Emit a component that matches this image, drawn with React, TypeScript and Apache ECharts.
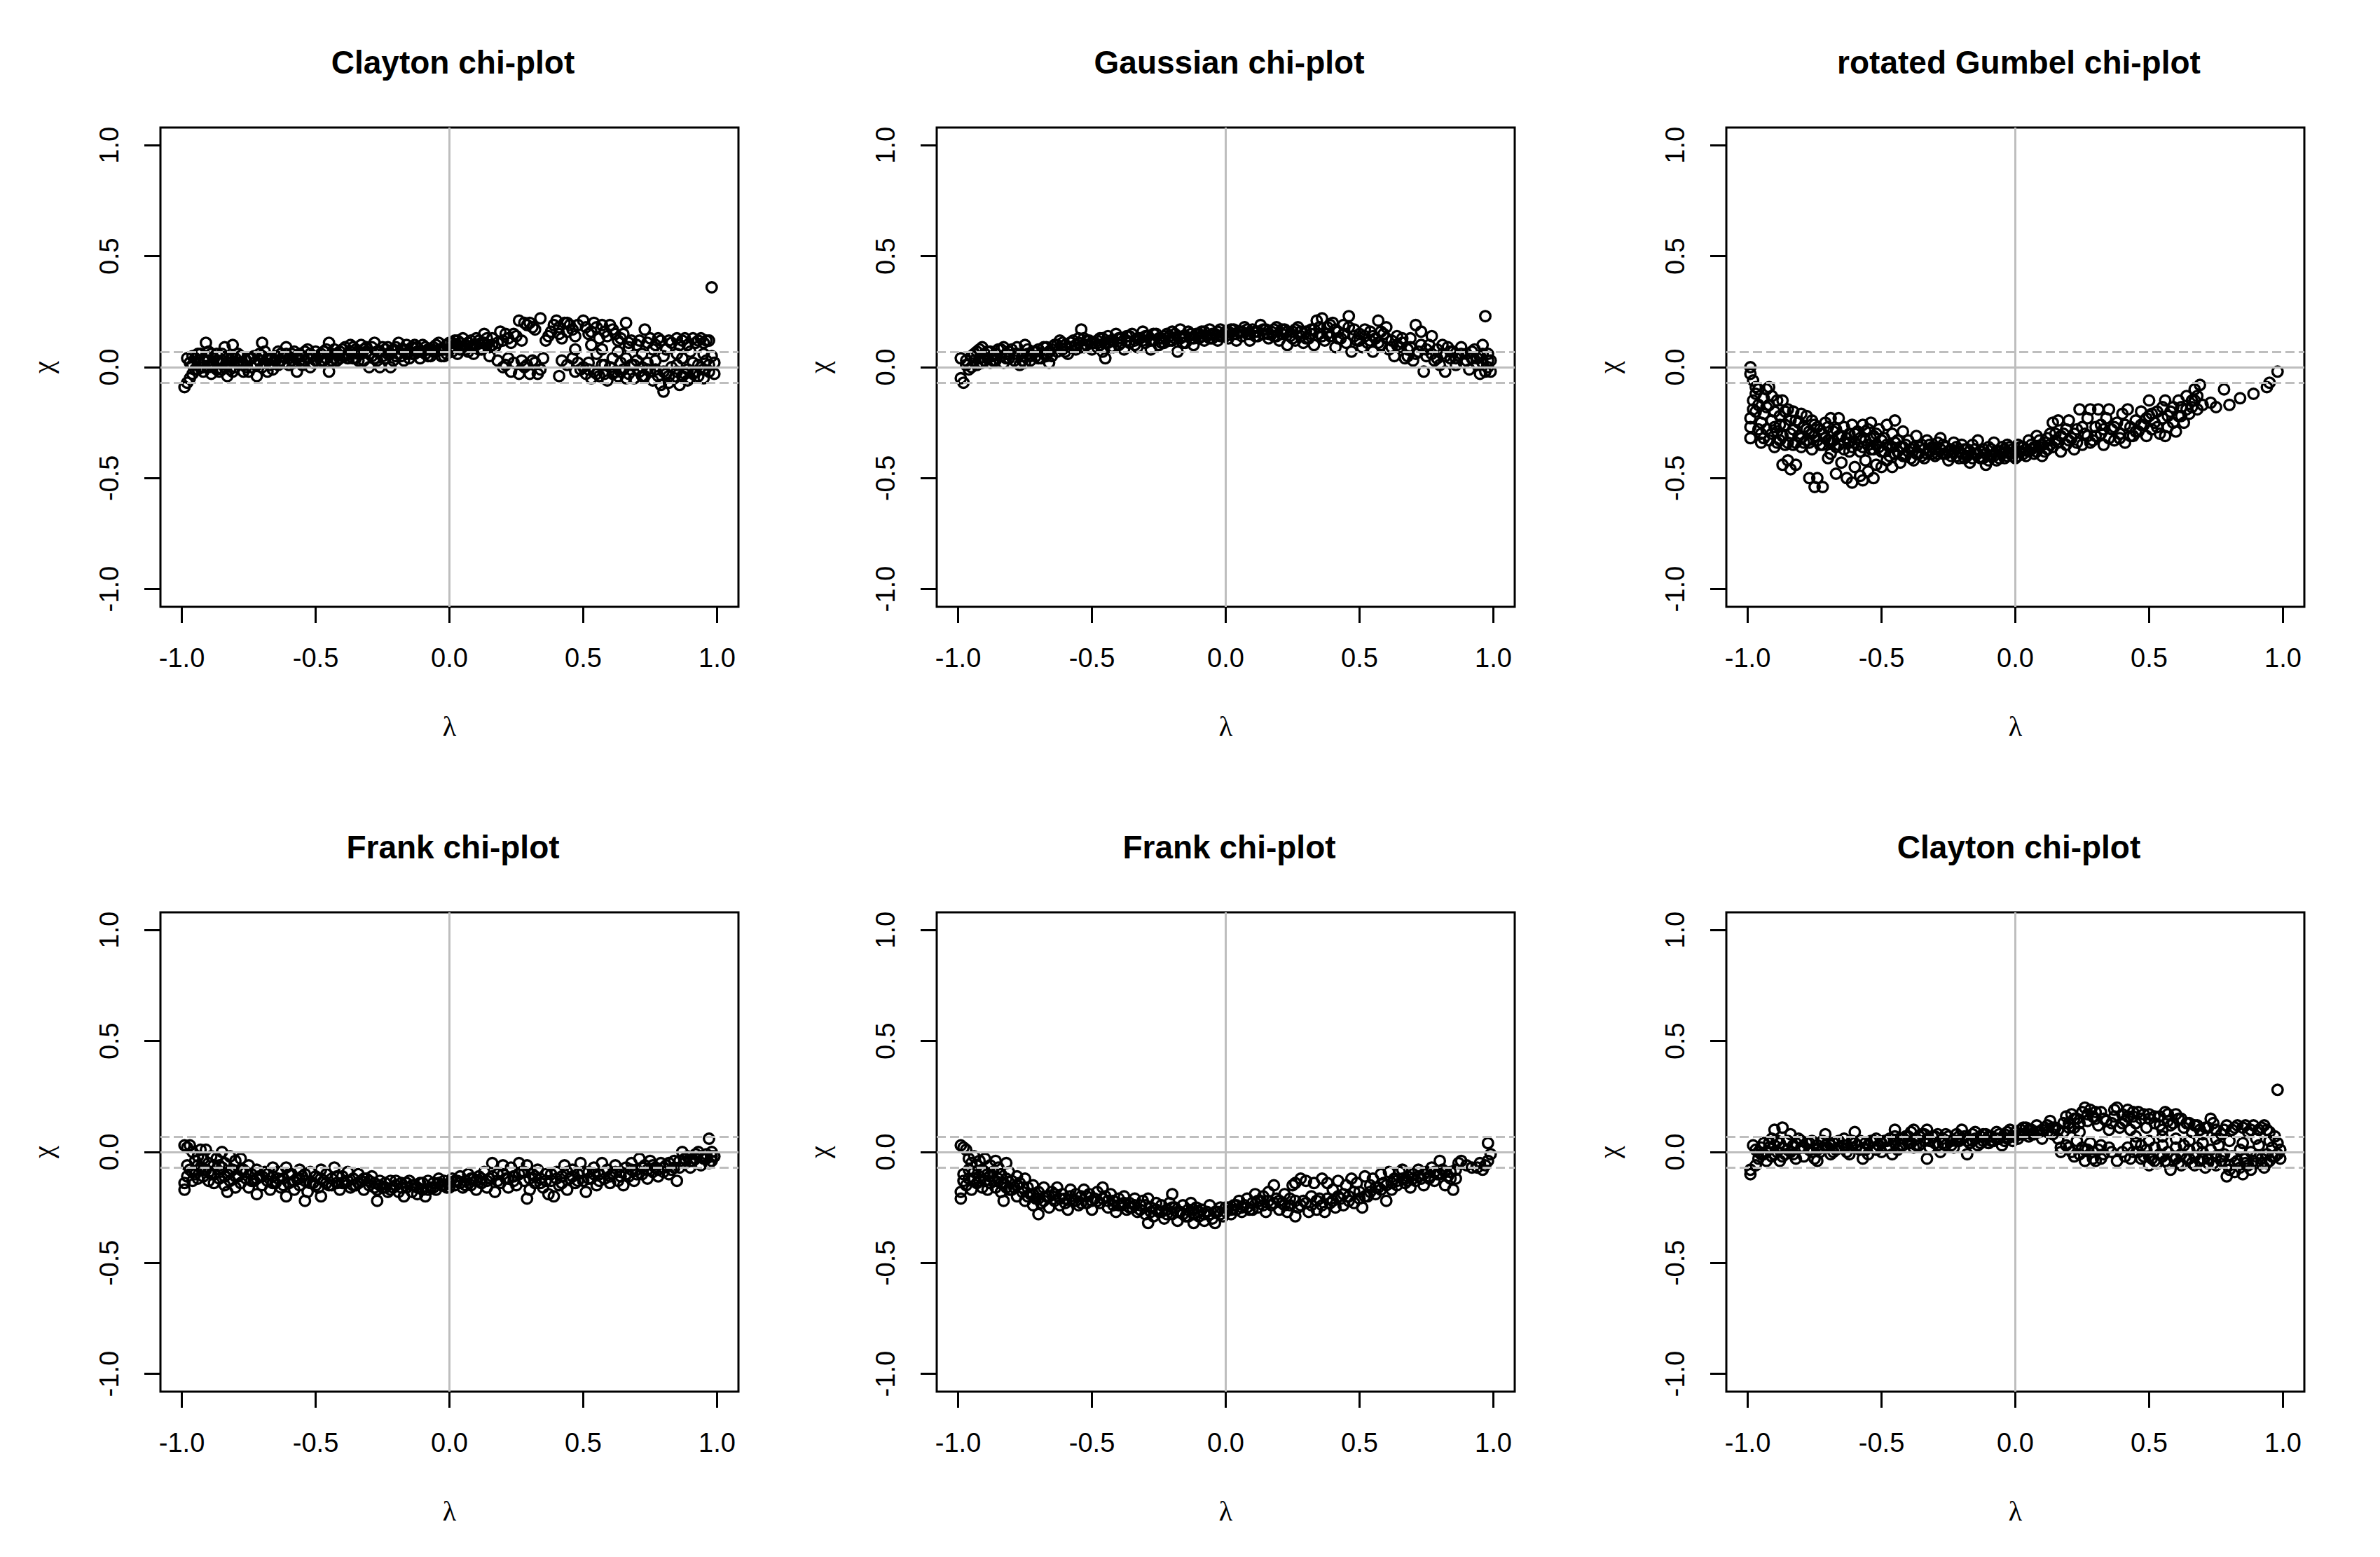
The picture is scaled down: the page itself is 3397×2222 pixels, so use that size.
import React, { useEffect, useRef } from "react";
import * as echarts from "echarts";

// ---- axis / reference values ----
const tickValues = [-1, -0.5, 0, 0.5, 1];
const axisMin = -1.08;
const axisMax = 1.08;
const bandHalfWidth = 0.069;

const titles = [
  "Clayton chi-plot",
  "Gaussian chi-plot",
  "rotated Gumbel chi-plot",
  "Frank chi-plot",
  "Frank chi-plot",
  "Clayton chi-plot",
];

// ---- data: [lambda*100, chi*100] ----
const claytonTop = [
  [-99,-9],[-98,-7],[-98,4],[-97,2],[-97,-5],[-96,-3],[-96,1],[-95,-1],[-95,4],[-94,2],[-94,-1],[-93,6],[-93,0],[-92,-2],[-92,3],[-91,11],[-91,5],[-90,0],[-90,3],[-89,-3],[-89,6],[-88,4],[-88,1],[-87,6],[-87,-1],[-86,2],[-86,-2],[-85,3],[-85,6],[-84,9],[-84,0],[-83,-4],[-83,4],[-82,2],[-82,-1],[-81,10],[-81,-2],[-80,4],[-79,2],[-79,6],[-78,5],[-77,1],[-77,-2],[-76,3],[-75,-2],[-74,4],[-74,0],[-73,2],[-72,-4],[-71,3],[-71,6],[-70,11],[-70,5],[-69,2],[-68,-2],[-68,4],[-67,4],[-66,2],[-66,-1],[-65,5],[-64,7],[-63,3],[-63,6],[-62,5],[-61,9],[-60,4],[-60,1],[-59,6],[-58,2],[-57,-2],[-57,5],[-56,6],[-55,1],[-54,7],[-54,3],[-53,4],[-52,6],[-52,0],[-51,2],[-50,7],
  [-49,5],[-48,3],[-47,7],[-47,3],[-46,4],[-45,11],[-45,-2],[-44,6],[-43,8],[-43,4],[-42,3],[-41,7],[-40,5],[-39,9],[-39,5],[-38,6],[-37,10],[-36,4],[-35,8],[-35,4],[-34,6],[-33,10],[-32,3],[-31,7],[-31,9],[-30,0],[-29,5],[-28,11],[-27,7],[-27,3],[-26,0],[-25,9],[-24,4],[-23,6],[-23,9],[-22,0],[-21,8],[-20,5],[-19,11],[-19,6],[-18,8],[-17,3],[-16,10],[-15,7],[-15,4],[-14,9],[-13,6],[-12,9],[-11,7],[-11,4],[-10,10],[-9,6],[-8,8],[-7,5],[-7,8],[-6,9],[-5,7],[-4,11],[-3,8],[-3,5],[-2,5],[-1,10],[0,8],[1,11],[1,7],[2,9],[3,12],[3,6],[4,8],[5,13],[5,9],[6,10],[7,7],[7,11],[8,12],[9,10],[9,6],[10,13],[11,8],[11,12],[12,11],[13,15],[13,11],[14,10],[15,5],[15,9],[16,13],[17,9],
  [19,16],[20,12],[21,15],[23,11],[25,14],[26,21],[28,20],[29,19],[31,18],[34,22],[36,12],[37,14],[38,16],[40,21],[41,18],[42,13],[43,20],[44,16],[45,19],[47,14],[50,21],[52,15],[54,20],[55,18],[56,13],[58,16],[60,19],[62,15],[64,13],[66,20],[68,12],[70,10],[73,17],[75,13],[77,10],[79,12],[81,8],[83,11],[85,13],[87,12],[89,10],[91,13],[93,12],[95,11],[97,12],[98,36],
  [18,3],[20,0],[22,4],[24,2],[26,-3],[27,3],[29,1],[30,-3],[32,2],[33,-3],[35,4],[41,-4],[42,3],[46,4],[48,2],[49,-1],[50,0],[51,-3],[52,2],[53,-5],[54,-2],[55,6],[56,-4],[57,1],[58,-3],[59,-6],[60,0],[61,4],[62,-2],[63,-4],[64,2],[65,-1],[66,4],[67,-3],[68,1],[69,-5],[70,3],[71,-2],[72,0],[73,-4],[74,2],[75,-2],[76,-6],[77,3],[78,-4],[79,-8],[80,-11],[81,-3],[82,-7],[83,0],[84,-5],[85,-2],[86,-8],[87,4],[88,-3],[89,-1],[90,-5],[91,2],[92,-2],[93,-4],[94,0],[95,-5],[96,3],[97,-2],[98,5],[99,-3],[99,2],
  [47,8],[53,10],[57,8],[63,7],[67,9],[72,6],[76,8],[80,5],[85,6],[90,7],[95,6],
];
const claytonTopExtra = [
  [-96,5],[-94,6],[-92,0],[-90,7],[-89,1],[-87,3],[-85,-1],[-83,1],[-81,4],[-80,0],[-78,2],[-76,0],[-75,4],[-73,5],[-72,1],[-70,0],[-69,7],[-67,1],[-65,3],[-64,1],[-62,2],[-61,6],[-59,3],[-58,7],[-56,3],[-55,5],[-53,8],[-51,5],[-50,3],[-48,6],[-46,8],[-44,3],[-42,6],[-41,4],[-40,8],[-38,4],[-37,7],[-36,9],[-34,3],[-33,6],[-32,8],[-30,6],[-29,9],[-28,4],[-26,7],[-25,5],[-24,8],[-22,6],[-21,3],[-20,9],[-18,5],[-17,8],[-16,6],[-14,6],[-13,10],[-12,7],[-10,7],[-9,9],[-8,5],[-6,7],[-5,10],[-4,8],[-2,8],[-1,6],[0,11],[2,12],[4,11],[6,8],[8,9],[10,10],[12,8],[14,13],[16,10],[18,11],[22,13],[24,15],[27,12],[30,20],[32,17],[39,19],[41,15],[44,20],[46,17],[48,19],[51,18],[53,16],[57,19],[59,14],[61,17],[63,12],[65,15],[67,11],[71,12],[74,11],[78,13],[82,12],[86,10],[88,13],[92,11],[94,13],[96,12],
  [21,1],[23,-2],[28,0],[31,3],[34,-1],[44,1],[47,-2],[52,-1],[55,-3],[58,1],[61,-3],[64,-2],[66,-5],[69,1],[72,-4],[74,-1],[77,-1],[80,-2],[82,-4],[85,1],[87,-4],[89,-6],[91,-3],[93,1],[95,-1],[97,1],
];

const gaussianTop = [
  [-99,4],[-99,-5],[-98,-7],[-97,1],[-96,-1],[-95,0],[-95,5],[-94,3],[-93,7],[-93,1],[-92,4],[-91,9],[-91,2],[-90,6],[-89,4],[-88,7],[-88,2],[-87,5],[-86,3],[-85,8],[-84,5],[-83,9],[-83,2],[-82,6],[-81,4],[-80,8],[-79,3],[-78,6],[-77,1],[-76,5],[-75,10],[-75,2],[-74,6],[-73,3],[-72,7],[-71,5],[-70,8],[-69,4],[-68,6],[-67,9],[-66,2],[-66,7],[-65,5],[-64,10],[-63,7],[-62,12],[-61,8],[-60,10],[-59,6],[-58,9],[-57,12],[-56,8],[-55,11],[-54,17],[-54,9],[-53,13],[-52,10],[-51,12],[-50,8],
  [-49,11],[-48,9],[-47,13],[-46,7],[-45,4],[-45,11],[-44,14],[-43,9],[-42,12],[-41,15],[-40,10],[-39,13],[-38,8],[-37,14],[-36,11],[-35,15],[-34,12],[-33,9],[-32,13],[-31,16],[-30,11],[-29,14],[-28,8],[-27,12],[-26,15],[-25,10],[-24,13],[-23,11],[-22,15],[-21,12],[-20,16],[-19,13],[-18,7],[-17,17],[-16,14],[-15,11],[-14,16],[-13,13],[-12,10],[-11,15],[-10,13],[-9,16],[-8,12],[-7,14],[-6,17],[-5,13],[-4,15],[-3,12],[-2,17],[-1,14],
  [0,16],[1,13],[2,17],[3,15],[4,12],[5,16],[6,14],[7,18],[8,15],[9,12],[10,17],[11,14],[12,16],[13,19],[14,15],[15,17],[16,13],[17,16],[18,14],[19,18],[20,12],[21,15],[22,17],[23,10],[24,14],[25,16],[26,12],[27,18],[28,14],[29,11],[30,16],[31,13],[32,17],[33,10],[34,21],[35,15],[36,22],[37,12],[38,18],[39,14],[40,20],[41,9],[42,16],[43,13],[44,19],[45,11],[46,23],[47,7],[48,17],[49,12],
  [50,15],[51,9],[52,14],[53,11],[54,16],[55,7],[56,13],[57,21],[58,10],[59,15],[60,18],[61,8],[62,12],[63,5],[64,14],[65,9],[66,11],[67,4],[68,8],[69,13],[70,3],[71,19],[72,7],[73,16],[74,-2],[75,5],[76,10],[77,14],[78,3],[79,8],[80,1],[81,6],[82,-2],[83,9],[84,4],[85,7],[86,1],[87,5],[88,9],[89,2],[90,6],[91,-1],[92,4],[93,8],[94,1],[95,-3],[95,5],[96,10],[96,2],[97,-2],[97,23],[98,6],[98,0],[99,3],[99,-2],
];
const gaussianTopExtra = [
  [-97,3],[-94,6],[-92,8],[-90,3],[-89,7],[-87,3],[-86,6],[-84,8],[-82,4],[-81,7],[-79,6],[-78,9],[-76,3],[-74,8],[-73,5],[-71,7],[-70,4],[-68,9],[-67,5],[-65,8],[-63,10],[-61,11],[-60,7],[-58,11],[-56,10],[-55,13],[-53,9],[-52,12],[-50,11],[-48,12],[-47,10],[-46,13],[-44,11],[-43,12],[-42,9],[-40,13],[-39,11],[-37,12],[-36,14],[-34,10],[-33,13],[-31,12],[-30,14],[-28,12],[-27,15],[-25,13],[-24,11],[-23,14],[-21,14],[-20,12],[-19,15],[-17,13],[-16,11],[-15,14],[-13,15],[-12,13],[-10,15],[-9,14],[-8,16],[-6,13],[-5,15],[-3,16],[-2,14],[0,14],[1,16],[3,17],[4,15],[6,16],[8,17],[9,15],[11,16],[12,14],[14,17],[16,15],[18,17],[19,14],[21,17],[23,16],[25,13],[26,17],[28,16],[30,13],[32,15],[33,17],[35,18],[36,14],[38,15],[39,19],[41,17],[42,13],[44,15],[46,18],[48,14],[50,12],[52,17],[54,12],[55,14],[57,11],[58,16],[60,13],[62,9],[64,10],[66,13],[68,5],[69,9],[71,6],[73,10],[75,8],[77,6],[79,4],[81,10],[82,5],[84,7],[86,4],[88,6],[90,3],[92,7],[94,4],[96,6],[98,3],
];

const gumbelTop = [
  [-99,0],[-99,-3],[-98,-6],[-97,-9],[-98,-15],[-99,-23],[-99,-27],[-99,-32],[-98,-19],[-97,-12],[-96,-10],[-96,-17],[-95,-25],[-95,-30],[-95,-34],[-94,-14],[-94,-21],[-93,-10],[-93,-28],[-92,-9],[-92,-17],[-92,-33],[-91,-24],[-91,-13],[-90,-36],[-90,-20],[-89,-15],[-89,-29],[-88,-33],[-88,-22],[-87,-15],[-87,-44],[-86,-26],[-86,-35],[-85,-19],[-85,-42],[-84,-46],[-84,-30],[-83,-20],[-83,-35],[-82,-24],[-82,-44],[-81,-31],[-80,-21],[-80,-36],[-79,-27],[-78,-22],[-78,-33],[-77,-50],[-77,-29],[-76,-24],[-76,-37],[-75,-54],[-75,-31],[-74,-27],[-74,-50],[-73,-35],[-72,-54],[-72,-30],[-71,-25],[-70,-33],[-70,-41],[-69,-39],[-69,-23],[-68,-29],[-67,-48],[-67,-36],[-66,-23],[-66,-31],[-65,-43],[-64,-34],[-64,-27],[-63,-50],[-62,-38],[-62,-30],[-61,-52],[-61,-26],[-60,-45],[-60,-34],[-59,-29],[-58,-49],[-58,-38],[-57,-51],[-57,-26],[-56,-42],[-56,-33],[-55,-47],[-55,-28],[-54,-37],[-54,-25],[-53,-50],[-53,-31],[-52,-44],[-52,-35],[-51,-28],[-50,-45],[-50,-38],
  [-49,-32],[-48,-42],[-48,-26],[-47,-36],[-46,-45],[-46,-30],[-45,-24],[-45,-39],[-44,-33],[-43,-43],[-42,-36],[-42,-29],[-41,-40],[-40,-33],[-39,-37],[-38,-42],[-37,-31],[-36,-39],[-35,-35],[-34,-41],[-33,-33],[-32,-38],[-31,-36],[-30,-40],[-29,-34],[-28,-32],[-27,-39],[-26,-36],[-25,-42],[-24,-37],[-23,-34],[-22,-40],[-21,-38],[-20,-35],[-19,-41],[-18,-37],[-17,-43],[-16,-35],[-15,-39],[-14,-33],[-13,-41],[-12,-37],[-11,-44],[-10,-36],[-9,-40],[-8,-34],[-7,-42],[-6,-38],[-5,-36],[-4,-41],[-3,-35],[-2,-39],[-1,-37],
  [0,-41],[1,-35],[2,-38],[3,-36],[4,-40],[5,-33],[6,-37],[7,-39],[8,-31],[9,-36],[10,-40],[11,-34],[12,-37],[13,-30],[14,-25],[14,-36],[15,-33],[16,-24],[17,-38],[18,-30],[19,-35],[20,-24],[21,-32],[22,-37],[23,-28],[24,-19],[25,-35],[26,-30],[27,-23],[28,-19],[29,-33],[30,-27],[31,-19],[32,-30],[33,-35],[34,-23],[35,-19],[36,-28],[37,-33],[38,-25],[39,-30],[40,-21],[41,-34],[42,-19],[43,-27],[44,-31],[45,-24],[46,-29],[47,-20],[48,-26],[49,-31],
  [50,-15],[50,-22],[51,-28],[52,-25],[53,-20],[54,-30],[55,-23],[56,-15],[56,-31],[57,-27],[58,-20],[59,-25],[60,-29],[61,-15],[61,-22],[62,-18],[63,-25],[64,-13],[65,-21],[66,-18],[67,-10],[67,-15],[68,-19],[69,-8],[70,-17],[73,-16],[75,-18],[78,-10],[80,-17],[84,-14],[89,-12],[94,-9],[95,-7],[98,-2],
];
const gumbelTopExtra = [
  [-97,-20],[-96,-28],[-94,-32],[-93,-18],[-91,-30],[-90,-27],[-89,-34],[-88,-26],[-87,-31],[-86,-20],[-85,-34],[-84,-24],[-83,-28],[-82,-34],[-81,-25],[-80,-32],[-79,-34],[-78,-28],[-77,-34],[-76,-30],[-75,-26],[-74,-33],[-73,-28],[-72,-35],[-71,-32],[-70,-27],[-69,-34],[-68,-33],[-67,-28],[-66,-35],[-65,-31],[-64,-37],[-63,-32],[-62,-34],[-61,-36],[-60,-30],[-59,-35],[-58,-32],[-57,-36],[-56,-29],[-55,-35],[-54,-32],[-53,-37],[-52,-30],[-51,-36],[-50,-33],[-49,-38],[-48,-35],[-47,-40],[-46,-36],[-45,-34],[-44,-38],[-43,-36],[-42,-40],[-41,-35],[-40,-38],[-39,-41],[-38,-36],[-37,-39],[-36,-36],[-35,-40],[-34,-37],[-33,-39],[-32,-35],[-31,-39],[-30,-37],[-29,-39],[-28,-37],[-27,-35],[-26,-39],[-25,-38],[-24,-40],[-23,-38],[-22,-36],[-21,-41],[-20,-39],[-19,-37],[-18,-40],[-17,-38],[-16,-41],[-15,-37],[-14,-39],[-13,-38],[-12,-41],[-11,-39],[-10,-42],[-9,-37],[-8,-40],[-7,-38],[-6,-41],[-5,-39],[-4,-37],[-3,-40],[-2,-36],[-1,-40],[0,-38],[1,-40],[2,-36],[3,-39],[4,-37],[5,-38],[6,-35],[7,-36],[8,-38],[9,-33],[10,-35],[11,-38],[12,-32],[13,-35],[15,-30],[16,-34],[17,-31],[19,-28],[20,-33],[22,-30],[23,-34],[25,-27],[27,-31],[28,-34],[30,-31],[32,-26],[33,-28],[35,-32],[37,-27],[39,-32],[41,-26],[43,-31],[45,-29],[47,-26],[49,-23],[51,-21],[53,-27],[55,-18],[57,-22],[59,-18],[62,-22],[64,-19],[66,-15],[68,-13],
];

const frankBottomLeft = [
  [-99,3],[-99,-14],[-99,-17],[-98,2],[-98,-11],[-97,3],[-97,-8],[-96,0],[-96,-13],[-95,-4],[-95,-10],[-94,-2],[-94,-12],[-93,1],[-93,-7],[-92,-3],[-92,-11],[-91,1],[-91,-8],[-90,-5],[-90,-13],[-89,-2],[-89,-10],[-88,-6],[-88,-14],[-87,-3],[-86,-9],[-86,-12],[-85,0],[-85,-7],[-84,-15],[-84,-5],[-83,-18],[-83,-10],[-82,-2],[-82,-13],[-81,-8],[-80,-4],[-80,-16],[-79,-11],[-78,-3],[-78,-14],[-77,-8],[-76,-12],[-75,-6],[-75,-16],[-74,-10],[-73,-13],[-72,-8],[-72,-19],[-71,-11],[-70,-15],[-69,-9],[-68,-13],[-67,-17],[-66,-7],[-66,-11],[-65,-14],[-64,-9],[-63,-16],[-62,-12],[-61,-20],[-61,-7],[-60,-14],[-59,-10],[-58,-17],[-57,-12],[-56,-8],[-56,-15],[-55,-11],[-54,-22],[-54,-13],[-53,-18],[-52,-9],[-51,-14],[-50,-11],
  [-49,-16],[-48,-20],[-48,-8],[-47,-13],[-46,-10],[-45,-15],[-44,-12],[-43,-7],[-42,-14],[-41,-17],[-40,-11],[-39,-14],[-38,-9],[-37,-16],[-36,-12],[-35,-15],[-34,-10],[-33,-13],[-32,-17],[-31,-12],[-30,-15],[-29,-11],[-28,-14],[-27,-22],[-27,-17],[-26,-13],[-25,-16],[-24,-14],[-23,-18],[-22,-13],[-21,-16],[-20,-15],[-19,-18],[-18,-14],[-17,-20],[-16,-16],[-15,-13],[-14,-18],[-13,-15],[-12,-19],[-11,-14],[-10,-17],[-9,-20],[-8,-13],[-7,-16],[-6,-14],[-5,-17],[-4,-12],[-3,-15],[-2,-13],[-1,-16],
  [0,-14],[1,-12],[2,-15],[3,-13],[4,-11],[5,-16],[6,-13],[7,-10],[8,-15],[9,-12],[10,-17],[11,-11],[12,-14],[13,-9],[14,-16],[15,-12],[16,-5],[17,-18],[18,-10],[19,-14],[20,-6],[21,-12],[22,-16],[23,-7],[24,-11],[25,-15],[26,-5],[27,-9],[28,-13],[29,-21],[29,-6],[30,-17],[31,-10],[32,-14],[33,-8],[34,-12],[35,-16],[36,-10],[37,-19],[38,-13],[39,-20],[40,-9],[41,-15],[42,-11],[43,-6],[44,-17],[45,-12],[46,-8],[47,-14],[48,-10],[49,-5],
  [50,-13],[51,-18],[52,-9],[53,-12],[54,-7],[55,-15],[56,-10],[57,-5],[58,-12],[59,-8],[60,-14],[61,-10],[62,-6],[63,-13],[64,-9],[65,-15],[66,-7],[67,-11],[68,-5],[69,-13],[70,-8],[71,-3],[72,-10],[73,-6],[74,-12],[75,-4],[76,-9],[77,-7],[78,-11],[79,-5],[80,-9],[81,-6],[82,-10],[83,-8],[84,-4],[85,-13],[86,-7],[87,0],[88,-5],[89,-2],[90,-7],[91,-4],[92,-1],[93,0],[94,-6],[95,-3],[96,-1],[97,-5],[97,6],[98,0],[98,-4],[99,-2],
];
const frankBottomLeftExtra = [
  [-98,-6],[-96,-9],[-94,-6],[-92,-8],[-90,-9],[-88,-10],[-86,-6],[-84,-11],[-82,-9],[-80,-11],[-78,-8],[-76,-9],[-74,-13],[-72,-12],[-70,-11],[-68,-10],[-66,-14],[-64,-12],[-62,-15],[-60,-10],[-58,-13],[-56,-12],[-54,-10],[-52,-14],[-50,-15],[-48,-12],[-46,-14],[-44,-15],[-42,-11],[-40,-14],[-38,-13],[-36,-15],[-34,-14],[-32,-12],[-30,-13],[-28,-16],[-26,-15],[-24,-16],[-22,-17],[-20,-13],[-18,-16],[-16,-14],[-14,-15],[-12,-16],[-10,-14],[-8,-17],[-6,-16],[-4,-14],[-2,-15],[0,-16],[2,-13],[4,-14],[6,-15],[8,-12],[10,-13],[12,-12],[14,-13],[16,-11],[18,-13],[20,-10],[22,-12],[24,-13],[26,-10],[28,-9],[30,-12],[32,-11],[34,-14],[36,-13],[38,-10],[40,-12],[42,-14],[44,-9],[46,-11],[48,-13],[50,-9],[52,-12],[54,-10],[56,-13],[58,-9],[60,-11],[62,-9],[64,-11],[66,-10],[68,-8],[70,-10],[72,-7],[74,-8],[76,-6],[78,-8],[80,-7],[82,-5],[84,-7],[86,-4],[88,-3],[90,-4],[92,-3],[94,-2],[96,-3],[98,-2],
];

const frankBottomMid = [
  [-99,3],[-99,-18],[-99,-21],[-98,2],[-98,-10],[-97,1],[-97,-15],[-96,-3],[-96,-12],[-95,-5],[-95,-17],[-94,-2],[-94,-9],[-93,-14],[-93,-6],[-92,-4],[-92,-11],[-91,-16],[-91,-8],[-90,-3],[-90,-13],[-89,-10],[-89,-17],[-88,-6],[-88,-14],[-87,-9],[-86,-4],[-86,-16],[-85,-12],[-85,-7],[-84,-18],[-84,-10],[-83,-22],[-83,-14],[-82,-5],[-82,-12],[-81,-9],[-81,-17],[-80,-13],[-79,-16],[-78,-11],[-78,-20],[-77,-14],[-76,-18],[-75,-12],[-75,-22],[-74,-16],[-73,-19],[-72,-24],[-72,-15],[-71,-21],[-70,-28],[-70,-18],[-69,-23],[-68,-16],[-67,-20],[-66,-25],[-65,-18],[-64,-22],[-63,-16],[-62,-24],[-61,-19],[-60,-21],[-59,-26],[-58,-17],[-57,-22],[-56,-19],[-55,-24],[-54,-20],[-53,-17],[-52,-23],[-51,-19],[-50,-26],
  [-49,-21],[-48,-18],[-47,-23],[-46,-16],[-45,-20],[-44,-25],[-43,-19],[-42,-22],[-41,-27],[-40,-21],[-39,-24],[-38,-20],[-37,-26],[-36,-23],[-35,-25],[-34,-21],[-33,-27],[-32,-24],[-31,-22],[-30,-28],[-29,-21],[-29,-32],[-28,-25],[-27,-29],[-26,-23],[-25,-27],[-24,-24],[-23,-30],[-22,-26],[-21,-23],[-20,-19],[-20,-28],[-19,-25],[-18,-31],[-17,-27],[-16,-24],[-15,-29],[-14,-26],[-13,-23],[-12,-32],[-12,-28],[-11,-25],[-10,-29],[-9,-26],[-8,-31],[-7,-27],[-6,-24],[-5,-30],[-4,-32],[-3,-27],[-2,-25],[-1,-29],
  [0,-27],[1,-25],[2,-28],[3,-24],[4,-26],[5,-22],[6,-27],[7,-24],[8,-21],[9,-26],[10,-23],[11,-19],[12,-25],[13,-22],[14,-20],[15,-27],[16,-18],[17,-24],[18,-15],[19,-21],[20,-26],[21,-23],[22,-19],[23,-27],[24,-24],[25,-15],[26,-29],[26,-14],[27,-25],[28,-12],[29,-22],[30,-13],[31,-27],[32,-24],[33,-14],[34,-26],[35,-21],[36,-12],[37,-27],[38,-14],[39,-23],[40,-17],[41,-25],[42,-13],[43,-21],[44,-24],[45,-15],[46,-20],[47,-12],[48,-23],[49,-14],
  [50,-18],[51,-25],[52,-11],[53,-20],[54,-15],[55,-12],[56,-19],[57,-16],[58,-10],[59,-14],[60,-22],[61,-9],[62,-17],[63,-12],[64,-15],[65,-9],[66,-8],[67,-14],[68,-11],[69,-16],[70,-10],[71,-13],[72,-8],[73,-12],[74,-15],[75,-9],[76,-11],[77,-7],[78,-13],[79,-10],[80,-4],[81,-8],[82,-15],[83,-11],[84,-9],[85,-17],[86,-12],[87,-5],[88,-4],[90,-6],[92,-7],[94,-7],[95,-5],[96,-8],[97,-6],[98,4],[98,-4],[99,-1],
];
const frankBottomMidExtra = [
  [-98,-13],[-96,-8],[-94,-12],[-92,-13],[-90,-9],[-88,-11],[-86,-13],[-84,-14],[-82,-16],[-80,-17],[-78,-15],[-76,-16],[-74,-20],[-72,-19],[-70,-21],[-68,-22],[-66,-20],[-64,-19],[-62,-21],[-60,-23],[-58,-20],[-56,-22],[-54,-23],[-52,-20],[-50,-22],[-48,-22],[-46,-21],[-44,-22],[-42,-24],[-40,-24],[-38,-23],[-36,-25],[-34,-24],[-32,-26],[-30,-24],[-28,-27],[-26,-26],[-24,-27],[-22,-28],[-20,-25],[-18,-27],[-16,-28],[-14,-29],[-12,-26],[-10,-27],[-8,-28],[-6,-28],[-4,-27],[-2,-28],[0,-25],[2,-26],[4,-24],[6,-25],[8,-25],[10,-26],[12,-22],[14,-24],[16,-22],[18,-23],[20,-22],[22,-24],[24,-21],[26,-22],[28,-24],[30,-23],[32,-20],[34,-22],[36,-24],[38,-21],[40,-22],[42,-20],[44,-19],[46,-22],[48,-18],[50,-21],[52,-20],[54,-18],[56,-16],[58,-17],[60,-15],[62,-14],[64,-13],[66,-12],[68,-13],[70,-12],[72,-11],[74,-10],[76,-12],[78,-9],[80,-10],[82,-9],[84,-12],[86,-8],
];

const claytonBottom = [
  [-99,-10],[-99,-8],[-98,3],[-97,-6],[-97,1],[-96,-3],[-95,2],[-95,-1],[-94,4],[-93,0],[-93,-4],[-92,2],[-91,6],[-91,-2],[-90,10],[-90,3],[-89,0],[-88,4],[-88,-4],[-87,11],[-87,2],[-86,-1],[-85,5],[-84,8],[-84,0],[-83,3],[-82,-3],[-81,6],[-80,2],[-79,-2],[-78,4],[-77,1],[-76,5],[-75,-3],[-74,-4],[-74,3],[-73,0],[-72,5],[-71,8],[-70,2],[-69,-1],[-68,4],[-67,1],[-66,5],[-65,2],[-64,6],[-63,3],[-62,-1],[-61,5],[-60,9],[-59,3],[-58,1],[-57,-3],[-56,4],[-55,-1],[-54,5],[-53,2],[-52,6],[-51,3],[-50,0],
  [-49,5],[-48,2],[-47,6],[-46,-1],[-45,10],[-45,4],[-44,1],[-43,6],[-42,3],[-41,7],[-40,4],[-39,9],[-38,10],[-38,2],[-37,6],[-36,3],[-35,8],[-34,5],[-33,10],[-33,-3],[-32,2],[-31,7],[-30,4],[-29,8],[-28,0],[-27,6],[-26,3],[-25,7],[-24,5],[-23,2],[-22,8],[-21,5],[-20,10],[-19,7],[-18,-1],[-17,4],[-16,8],[-15,6],[-14,3],[-13,7],[-12,5],[-11,8],[-10,4],[-9,7],[-8,5],[-7,9],[-6,6],[-5,3],[-4,8],[-3,6],[-2,10],[-1,7],[0,9],[1,6],[2,10],[3,8],[4,11],[5,7],[6,10],[7,8],[8,12],[9,9],[10,6],[11,11],[12,9],[13,14],[14,8],[15,11],[16,6],[17,0],[18,13],
  [19,16],[20,13],[21,17],[22,11],[23,15],[24,9],[25,18],[26,20],[27,14],[28,19],[29,16],[30,18],[31,12],[33,15],[35,10],[36,13],[37,16],[38,20],[39,11],[40,17],[41,14],[42,19],[43,10],[44,16],[45,13],[46,18],[48,17],[49,11],[50,15],[52,13],[54,16],[55,10],[56,18],[57,14],[58,12],[60,17],[62,15],[63,11],[65,13],[66,9],[68,12],[70,8],[72,11],[73,15],[75,10],[77,8],[79,12],[81,10],[83,12],[85,11],[87,9],[89,12],[91,10],[93,12],[95,9],[97,7],[98,28],
  [17,2],[19,3],[21,0],[23,5],[24,-1],[25,2],[26,-4],[27,1],[28,4],[29,-3],[30,-4],[31,1],[32,3],[33,-1],[35,2],[38,-4],[40,0],[42,2],[43,-3],[45,4],[46,0],[47,3],[48,-2],[49,1],[50,-6],[51,-3],[52,2],[53,-5],[54,-1],[55,3],[56,-4],[57,0],[58,-8],[59,-2],[60,2],[61,-5],[62,-1],[63,3],[64,-3],[65,1],[66,-5],[67,-2],[68,2],[69,-4],[70,0],[71,-7],[72,-3],[73,1],[74,-5],[75,-2],[76,3],[77,-4],[78,-1],[79,-11],[80,-6],[81,-2],[82,-9],[83,-4],[84,1],[85,-10],[86,-3],[87,-6],[88,0],[89,-4],[90,-2],[91,3],[92,-5],[93,-7],[94,-1],[95,-4],[96,2],[97,-2],[98,4],[99,-3],[99,1],
  [45,7],[50,5],[55,7],[60,6],[65,5],[70,4],[75,6],[80,5],[85,4],[90,6],[95,5],
];
const claytonBottomExtra = [
  [-96,0],[-94,-1],[-92,4],[-90,-1],[-89,5],[-87,-2],[-85,1],[-83,-1],[-82,4],[-80,5],[-79,2],[-77,4],[-76,0],[-74,1],[-72,2],[-71,3],[-69,3],[-68,0],[-66,2],[-64,3],[-63,0],[-61,2],[-60,4],[-58,5],[-56,1],[-55,3],[-53,5],[-52,1],[-50,4],[-48,5],[-47,2],[-45,7],[-43,3],[-42,6],[-40,7],[-39,4],[-37,3],[-36,7],[-34,8],[-32,5],[-30,7],[-29,3],[-27,4],[-26,8],[-24,3],[-22,5],[-21,7],[-20,6],[-18,5],[-16,5],[-15,9],[-13,4],[-12,8],[-10,7],[-9,5],[-7,6],[-6,8],[-4,5],[-3,9],[-1,5],[0,7],[2,8],[3,11],[5,10],[6,8],[8,9],[10,10],[12,12],[14,11],[16,10],[18,9],[20,11],[22,15],[24,13],[27,17],[30,15],[32,18],[34,14],[37,19],[40,13],[42,16],[44,18],[47,15],[50,17],[52,16],[54,12],[57,17],[59,13],[61,15],[64,13],[67,12],[69,10],[71,11],[74,13],[78,10],[82,11],[86,12],[88,10],[92,11],[94,10],
  [20,2],[22,-2],[26,1],[29,0],[32,-3],[36,0],[41,-2],[44,0],[47,-3],[50,-2],[52,-4],[55,-2],[57,-5],[60,-3],[62,-6],[65,-3],[67,-6],[70,-3],[72,-5],[75,-6],[77,-2],[80,-8],[82,-5],[84,-7],[86,-5],[88,-8],[90,-5],[92,-3],[94,-5],[96,-2],[98,-1],
];

const panelData = [
  claytonTop.concat(claytonTopExtra),
  gaussianTop.concat(gaussianTopExtra),
  gumbelTop.concat(gumbelTopExtra),
  frankBottomLeft.concat(frankBottomLeftExtra),
  frankBottomMid.concat(frankBottomMidExtra),
  claytonBottom.concat(claytonBottomExtra),
];

// ---- layout (pixels) ----
const W = 3397;
const H = 2222;
const colLeft = [229, 1337, 2464];
const rowTop = [182, 1302];
const boxW = 825;
const boxH = 684;

const SANS = "Liberation Sans, Arial, Helvetica, sans-serif";
const SERIF = "Liberation Serif, Times New Roman, serif";
const GRAY = "#bebebe";

// ring symbol (R's pch = 1): filled annulus, outer r 9, inner r 5.6
const RING =
  "path://M0,-9A9,9,0,1,1,0,9A9,9,0,1,1,0,-9ZM0,-5.6A5.6,5.6,0,1,0,0,5.6A5.6,5.6,0,1,0,0,-5.6Z";

function buildOption() {
  const grid: any[] = [];
  const xAxis: any[] = [];
  const yAxis: any[] = [];
  const series: any[] = [];
  const title: any[] = [];
  panelData.forEach((pts, i) => {
    const col = i % 3;
    const row = Math.floor(i / 3);
    const left = colLeft[col];
    const top = rowTop[row];
    grid.push({
      left, top, width: boxW, height: boxH,
      show: true, borderColor: "#000", borderWidth: 3, backgroundColor: "transparent",
      containLabel: false,
    });
    title.push({
      text: titles[i],
      left: left + boxW / 2,
      top: top - 121,
      textAlign: "center",
      textStyle: { fontFamily: SANS, fontSize: 46, fontWeight: "bold", color: "#000" },
    });
    const common = {
      type: "value",
      gridIndex: i,
      min: axisMin,
      max: axisMax,
      splitLine: { show: false },
      axisLine: { show: false, onZero: false },
      axisTick: {
        show: true, inside: false, length: 23,
        customValues: tickValues,
        lineStyle: { color: "#000", width: 3 },
      },
    };
    xAxis.push({
      ...common,
      position: "bottom",
      name: "λ",
      nameLocation: "middle",
      nameGap: 150,
      nameTextStyle: { fontFamily: SERIF, fontSize: 40, color: "#000" },
      axisLabel: {
        customValues: tickValues,
        formatter: (v: number) => v.toFixed(1),
        fontFamily: SANS, fontSize: 38, color: "#000", margin: 54,
      },
    });
    yAxis.push({
      ...common,
      position: "left",
      name: "χ",
      nameLocation: "middle",
      nameGap: 148,
      nameTextStyle: { fontFamily: SERIF, fontSize: 40, color: "#000" },
      axisLabel: {
        customValues: tickValues,
        formatter: (v: number) => v.toFixed(1),
        rotate: 90,
        fontFamily: SANS, fontSize: 38, color: "#000", margin: 54,
      },
    });
    series.push({
      type: "scatter",
      xAxisIndex: i,
      yAxisIndex: i,
      data: pts.map((p) => [p[0] / 100, p[1] / 100]),
      symbol: RING,
      symbolSize: 18,
      symbolKeepAspect: true,
      itemStyle: { color: "#000", borderWidth: 0, opacity: 1 },
      emphasis: { disabled: true },
      silent: true,
      z: 2,
      markLine: {
        silent: true,
        symbol: ["none", "none"],
        label: { show: false },
        z: 5,
        lineStyle: { color: GRAY, width: 3, type: "solid" },
        data: [
          { yAxis: 0 },
          { xAxis: 0 },
          { yAxis: bandHalfWidth, lineStyle: { color: GRAY, width: 3, type: [13, 6] } },
          { yAxis: -bandHalfWidth, lineStyle: { color: GRAY, width: 3, type: [13, 6] } },
        ],
      },
    });
  });
  return {
    animation: false,
    backgroundColor: "#fff",
    textStyle: { fontFamily: SANS },
    title, grid, xAxis, yAxis, series,
  };
}

export default function App() {
  const ref = useRef<HTMLDivElement>(null);
  useEffect(() => {
    if (!ref.current) return;
    const chart = echarts.init(ref.current, undefined, { renderer: "svg" });
    chart.setOption(buildOption() as any);
    return () => chart.dispose();
  }, []);
  return (
    <div
      ref={ref}
      style={{ position: "fixed", left: 0, top: 0, width: W, height: H, background: "#fff" }}
    />
  );
}
